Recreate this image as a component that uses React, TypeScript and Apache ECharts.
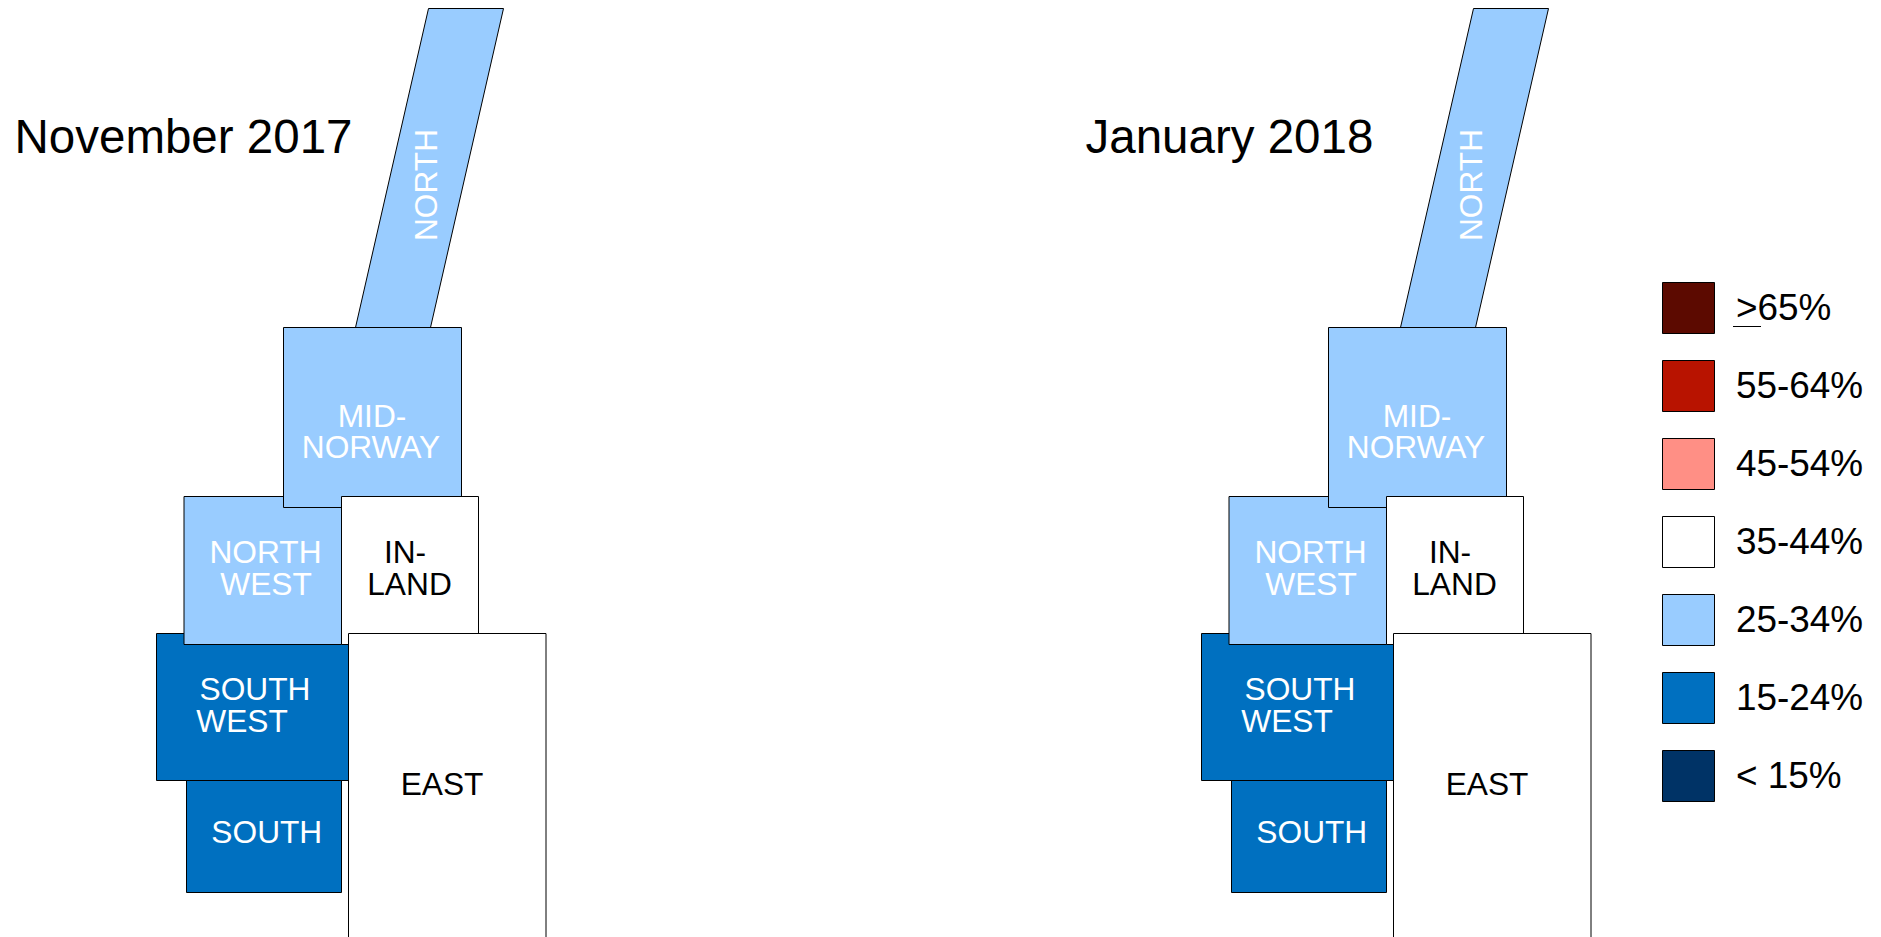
import React, { useEffect, useRef } from "react";
import * as echarts from "echarts";

// Data: the colour band of each region in each survey (drawing order)
const regions = ["NORTH", "SOUTH WEST", "SOUTH", "NORTH WEST", "MID-NORWAY", "IN-LAND", "EAST"];
const november2017 = ["25-34%", "15-24%", "15-24%", "25-34%", "25-34%", "35-44%", "35-44%"];
const january2018 = ["25-34%", "15-24%", "15-24%", "25-34%", "25-34%", "35-44%", "35-44%"];
const legendBands = [">65%", "55-64%", "45-54%", "35-44%", "25-34%", "15-24%", "< 15%"];
const bandColors = ["#5C0A00", "#B81300", "#FF8F85", "#FFFFFF", "#99CCFF", "#0070C0", "#003366"];

const FONT = "'Liberation Sans', Arial, sans-serif";
const PAGE_W = 1881;
const PAGE_H = 937;
const PANEL_W = 700;
const PANEL_OFFSET = 1045;

// Tile-map layout, in page units of a panel: outline, then one entry per text line
const tileShapes: Record<string, number[][]> = {
  "NORTH": [[428.5, 8.5], [503.5, 8.5], [430.5, 327.5], [355.5, 327.5]],
  "SOUTH WEST": [[156.5, 633.5], [348.5, 633.5], [348.5, 780.5], [156.5, 780.5]],
  "SOUTH": [[186.5, 780.5], [341.5, 780.5], [341.5, 892.5], [186.5, 892.5]],
  "NORTH WEST": [[184, 496.5], [341.5, 496.5], [341.5, 644.5], [184, 644.5]],
  "MID-NORWAY": [[283.5, 327.5], [461.5, 327.5], [461.5, 507.5], [283.5, 507.5]],
  "IN-LAND": [[341.5, 496.5], [478.5, 496.5], [478.5, 644.5], [341.5, 644.5]],
  "EAST": [[348.5, 633.5], [546, 633.5], [546, 960], [348.5, 960]],
};
const tileLines: Record<string, [string, number, number][]> = {
  "NORTH": [["NORTH", 425.5, 185]],
  "SOUTH WEST": [["SOUTH", 255, 689.2], ["WEST", 242, 720.8]],
  "SOUTH": [["SOUTH", 266.8, 832.2]],
  "NORTH WEST": [["NORTH", 265.5, 552.2], ["WEST", 266, 583.8]],
  "MID-NORWAY": [["MID-", 372, 415.5], ["NORWAY", 371, 447]],
  "IN-LAND": [["IN-", 405, 552.2], ["LAND", 409.5, 583.8]],
  "EAST": [["EAST", 442, 784.2]],
};

const colorOf = (band: string) => bandColors[legendBands.indexOf(band)];

function panelSeries(bands: string[], gridIndex: number) {
  return {
    type: "custom",
    xAxisIndex: gridIndex,
    yAxisIndex: gridIndex,
    coordinateSystem: "cartesian2d",
    clip: false,
    silent: true,
    data: regions.map((_, i) => [i, legendBands.indexOf(bands[i])]),
    renderItem: (params: any, api: any) => {
      const region = regions[params.dataIndex];
      const band = bands[params.dataIndex];
      const textFill = band === "35-44%" ? "#000000" : "#FFFFFF";
      const points = tileShapes[region].map((p) => api.coord(p));
      const children: any[] = [
        {
          type: "polygon",
          shape: { points },
          style: { fill: colorOf(band), stroke: "#000000", lineWidth: 1 },
        },
      ];
      tileLines[region].forEach(([text, cx, cy]) => {
        const [x, y] = api.coord([cx, cy]);
        children.push({
          type: "text",
          x,
          y,
          rotation: region === "NORTH" ? Math.PI / 2 : 0,
          style: {
            text,
            fill: textFill,
            font: `31.7px ${FONT}`,
            align: "center",
            verticalAlign: "middle",
          },
        });
      });
      return { type: "group", children };
    },
  };
}

const legendSeries = {
  type: "custom",
  xAxisIndex: 2,
  yAxisIndex: 2,
  coordinateSystem: "cartesian2d",
  silent: true,
  data: legendBands.map((_, i) => [i, i]),
  renderItem: (params: any, api: any) => {
    const i = params.dataIndex;
    const top = 282.5 + i * 78;
    const [x0, y0] = api.coord([1662.5, top]);
    const [x1, y1] = api.coord([1714.5, top + 51]);
    const children: any[] = [
      {
        type: "rect",
        shape: { x: x0, y: y0, width: x1 - x0, height: y1 - y0 },
        style: { fill: bandColors[i], stroke: "#000000", lineWidth: 1 },
      },
      {
        type: "text",
        x: 1736,
        y: top + 25,
        style: {
          text: legendBands[i],
          fill: "#000000",
          font: `36.9px ${FONT}`,
          align: "left",
          verticalAlign: "middle",
        },
      },
    ];
    if (i === 0) {
      children.push({
        type: "line",
        shape: { x1: 1733, y1: 326.5, x2: 1761, y2: 326.5 },
        style: { stroke: "#000000", lineWidth: 1 },
      });
    }
    return { type: "group", children };
  },
};

const hiddenX = (gridIndex: number, max: number) => ({
  type: "value", gridIndex, min: 0, max, show: false,
});
const hiddenY = (gridIndex: number) => ({
  type: "value", gridIndex, min: 0, max: PAGE_H, inverse: true, show: false,
});

export default function App() {
  const ref = useRef<HTMLDivElement>(null);
  useEffect(() => {
    const chart = echarts.init(ref.current!, null, { renderer: "svg" });
    chart.setOption({
      animation: false,
      backgroundColor: "#FFFFFF",
      title: [
        {
          text: "November 2017",
          left: 14.5,
          top: 112,
          padding: 0,
          textStyle: { fontFamily: FONT, fontSize: 47.5, fontWeight: "normal", color: "#000000" },
        },
        {
          text: "January 2018",
          left: 1085.5,
          top: 112,
          padding: 0,
          textStyle: { fontFamily: FONT, fontSize: 47.5, fontWeight: "normal", color: "#000000" },
        },
      ],
      grid: [
        { left: 0, top: 0, width: PANEL_W, height: PAGE_H },
        { left: PANEL_OFFSET, top: 0, width: PANEL_W, height: PAGE_H },
        { left: 0, top: 0, width: PAGE_W, height: PAGE_H },
      ],
      xAxis: [hiddenX(0, PANEL_W), hiddenX(1, PANEL_W), hiddenX(2, PAGE_W)],
      yAxis: [hiddenY(0), hiddenY(1), hiddenY(2)],
      series: [panelSeries(november2017, 0), panelSeries(january2018, 1), legendSeries],
    });
    return () => chart.dispose();
  }, []);
  return (
    <div
      ref={ref}
      style={{ position: "absolute", left: 0, top: 0, width: PAGE_W, height: PAGE_H }}
    />
  );
}
